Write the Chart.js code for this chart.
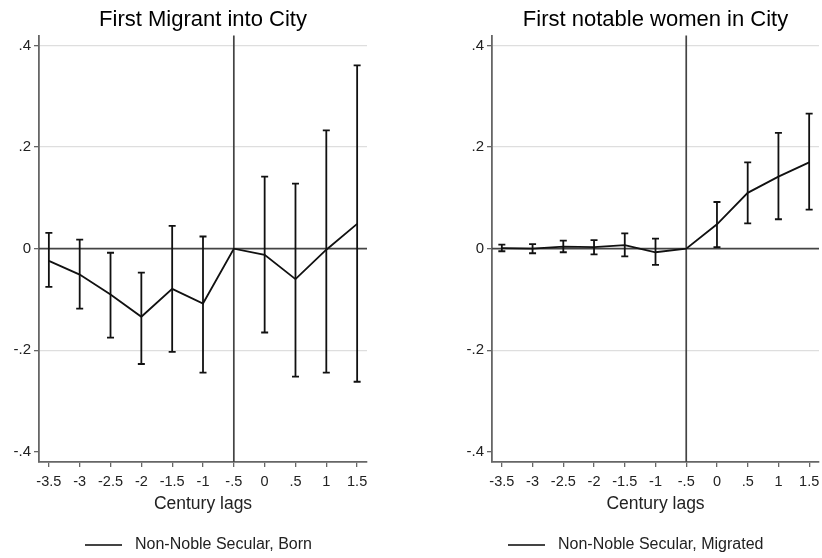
<!DOCTYPE html>
<html>
<head>
<meta charset="utf-8">
<script src="https://cdn.jsdelivr.net/npm/chart.js@4.4.1/dist/chart.umd.min.js"></script>
<style>
  body { margin: 0; background: #fff; }
  #wrap { position: relative; width: 822px; height: 558px; font-family: "Liberation Sans", Arial, sans-serif; }
  canvas { position: absolute; top: 0; }
  .legend { position: absolute; top: 534px; height: 20px; font-size: 16px; color: #222; line-height: 20px; white-space: nowrap; }
  .legend span.line { display: inline-block; width: 37px; height: 0; border-top: 2px solid #444; vertical-align: middle; margin-right: 13px; }
</style>
</head>
<body>
<div id="wrap">
  <canvas id="left" width="411" height="558" style="left:0"></canvas>
  <canvas id="right" width="411" height="558" style="left:411px"></canvas>
  <div class="legend" style="left:85px"><span class="line"></span>Non-Noble Secular, Born</div>
  <div class="legend" style="left:508px"><span class="line"></span>Non-Noble Secular, Migrated</div>
</div>
<script>
// century lags (x)
var lags = [-3.5, -3, -2.5, -2, -1.5, -1, -0.5, 0, 0.5, 1, 1.5];

// First Migrant into City - Non-Noble Secular, Born
var bornCoef = [-0.024, -0.051, -0.090, -0.134, -0.079, -0.108, 0, -0.012, -0.060, -0.002, 0.049];
var bornLow  = [-0.075, -0.118, -0.175, -0.227, -0.203, -0.244, null, -0.165, -0.252, -0.244, -0.262];
var bornHigh = [0.031, 0.018, -0.008, -0.047, 0.045, 0.024, null, 0.142, 0.128, 0.233, 0.361];

// First notable women in City - Non-Noble Secular, Migrated
var migCoef = [0.001, 0.000, 0.004, 0.003, 0.007, -0.007, 0, 0.048, 0.110, 0.142, 0.170];
var migLow  = [-0.005, -0.009, -0.007, -0.011, -0.015, -0.032, null, 0.003, 0.050, 0.058, 0.077];
var migHigh = [0.008, 0.009, 0.016, 0.017, 0.030, 0.020, null, 0.092, 0.170, 0.228, 0.266];

// axis ticks
var xTickValues = [-3.5, -3, -2.5, -2, -1.5, -1, -0.5, 0, 0.5, 1, 1.5];
var xTickLabels = ["-3.5", "-3", "-2.5", "-2", "-1.5", "-1", "-.5", "0", ".5", "1", "1.5"];
var yTickValues = [-0.4, -0.2, 0, 0.2, 0.4];
var yTickLabels = ["-.4", "-.2", "0", ".2", ".4"];
var yGridValues = [-0.2, 0.2, 0.4];

var FONT = "'Liberation Sans', Arial, sans-serif";

// reference lines at x=-.5 and y=0
var refLines = {
    id: "refLines",
    beforeDatasetsDraw: function(chart) {
        var ctx = chart.ctx, a = chart.chartArea;
        var xs = chart.scales.x, ys = chart.scales.y;
        ctx.save();
        ctx.strokeStyle = "#444";
        ctx.lineWidth = 1.7;
        var px = xs.getPixelForValue(-0.5);
        ctx.beginPath();
        ctx.moveTo(px, a.top);
        ctx.lineTo(px, a.bottom);
        ctx.stroke();
        var py = ys.getPixelForValue(0);
        ctx.beginPath();
        ctx.moveTo(a.left, py);
        ctx.lineTo(a.right, py);
        ctx.stroke();
        ctx.restore();
    }
};

// confidence interval bars with caps
var errorBars = {
    id: "errorBars",
    afterDatasetsDraw: function(chart) {
        var ctx = chart.ctx;
        var xs = chart.scales.x, ys = chart.scales.y;
        var lo = chart.options.plugins.errorBars.low;
        var hi = chart.options.plugins.errorBars.high;
        ctx.save();
        ctx.strokeStyle = "#111";
        ctx.lineWidth = 1.8;
        for (var i = 0; i < lags.length; i++) {
            if (lo[i] === null) continue;
            var x = xs.getPixelForValue(lags[i]);
            var y1 = ys.getPixelForValue(lo[i]);
            var y2 = ys.getPixelForValue(hi[i]);
            ctx.beginPath();
            ctx.moveTo(x, y1); ctx.lineTo(x, y2);
            ctx.moveTo(x - 3.5, y1); ctx.lineTo(x + 3.5, y1);
            ctx.moveTo(x - 3.5, y2); ctx.lineTo(x + 3.5, y2);
            ctx.stroke();
        }
        ctx.restore();
    }
};

function makeChart(id, title, coef, low, high, yWidth, padRight) {
    var ctx = document.getElementById(id).getContext("2d");
    return new Chart(ctx, {
        type: "line",
        data: {
            datasets: [{
                data: lags.map(function(x, i) { return { x: x, y: coef[i] }; }),
                borderColor: "#111",
                borderWidth: 1.8,
                pointRadius: 0,
                tension: 0,
                fill: false
            }]
        },
        options: {
            responsive: false,
            animation: false,
            devicePixelRatio: 1,
            layout: { padding: { left: 0, right: padRight, top: 0, bottom: 30 } },
            plugins: {
                legend: { display: false },
                tooltip: { enabled: false },
                title: {
                    display: true,
                    text: title,
                    fullSize: false,
                    color: "#000",
                    font: { family: FONT, size: 22, weight: "normal" },
                    padding: { top: 7, bottom: 2 }
                },
                errorBars: { low: low, high: high }
            },
            scales: {
                x: {
                    type: "linear",
                    min: -3.66,
                    max: 1.66,
                    afterBuildTicks: function(scale) {
                        scale.ticks = xTickValues.map(function(v) { return { value: v }; });
                    },
                    afterFit: function(scale) {
                        scale.height = 66;
                        scale.paddingLeft = 0;
                        scale.paddingRight = 0;
                    },
                    ticks: {
                        autoSkip: false,
                        maxRotation: 0,
                        color: "#222",
                        padding: 6,
                        font: { family: FONT, size: 14.5 },
                        callback: function(v, i) { return xTickLabels[i]; }
                    },
                    grid: { drawOnChartArea: false, tickLength: 5, tickColor: "#666", lineWidth: 1.3 },
                    border: { display: true, color: "#666", width: 1.8 },
                    title: {
                        display: true,
                        text: "Century lags",
                        color: "#222",
                        font: { family: FONT, size: 17.5 },
                        padding: { top: 2, bottom: 13 }
                    }
                },
                y: {
                    min: -0.42,
                    max: 0.42,
                    afterBuildTicks: function(scale) {
                        scale.ticks = yTickValues.map(function(v) { return { value: v }; });
                    },
                    afterFit: function(scale) {
                        scale.width = yWidth;
                        scale.paddingTop = 0;
                        scale.paddingBottom = 0;
                    },
                    ticks: {
                        color: "#222",
                        padding: 3,
                        font: { family: FONT, size: 15 },
                        callback: function(v, i) { return yTickLabels[i]; }
                    },
                    grid: {
                        tickLength: 5,
                        tickColor: "#666",
                        lineWidth: 1.3,
                        color: function(c) {
                            if (c.tick && yGridValues.indexOf(c.tick.value) >= 0) return "#dedede";
                            return "rgba(0,0,0,0)";
                        }
                    },
                    border: { display: true, color: "#666", width: 1.8 }
                }
            }
        },
        plugins: [refLines, errorBars]
    });
}

makeChart("left", "First Migrant into City", bornCoef, bornLow, bornHigh, 39, 44);
makeChart("right", "First notable women in City", migCoef, migLow, migHigh, 81, 3);
</script>
</body>
</html>
